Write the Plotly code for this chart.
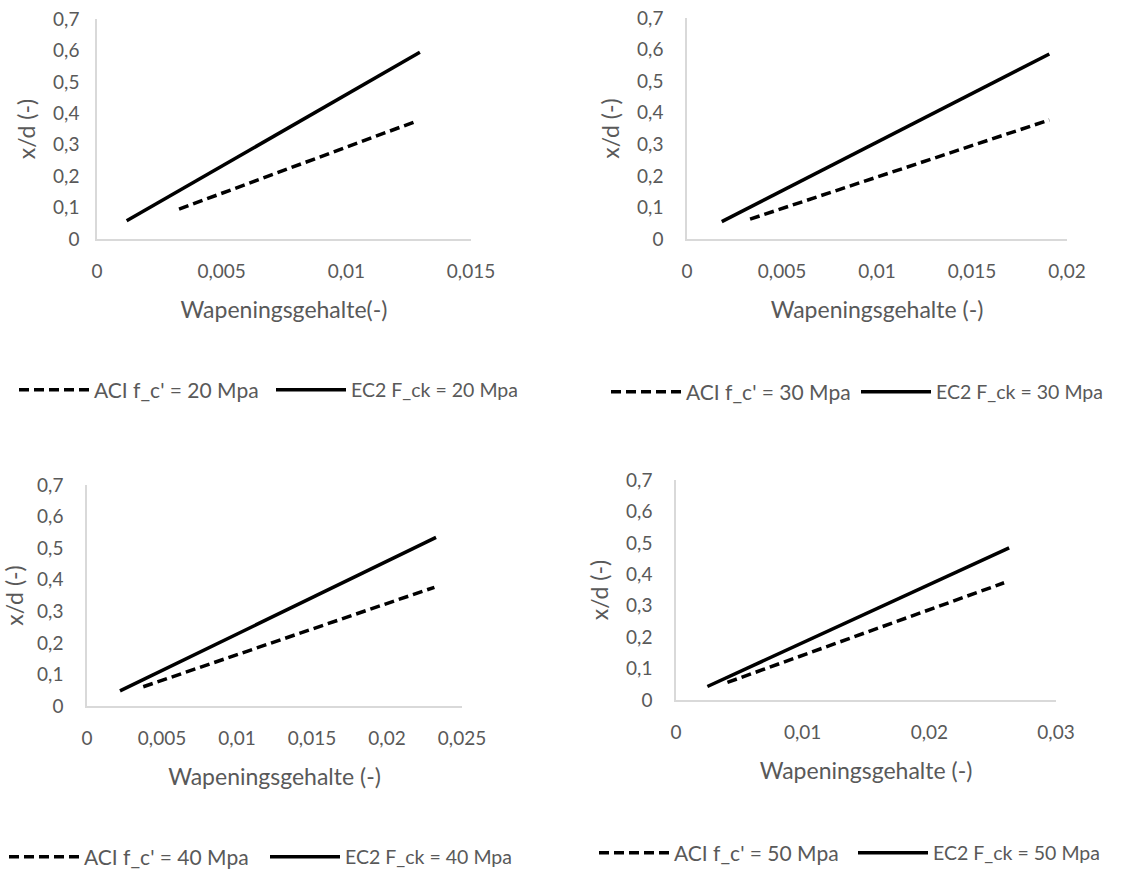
import plotly.graph_objects as go

# ---------------- data ----------------
aci20_x = [0.00329, 0.01275]
aci20_y = [0.095, 0.373]
ec2_20_x = [0.00119, 0.01295]
ec2_20_y = [0.058, 0.594]

aci30_x = [0.00332, 0.01907]
aci30_y = [0.063, 0.377]
ec2_30_x = [0.00183, 0.01907]
ec2_30_y = [0.055, 0.586]

aci40_x = [0.00375, 0.02316]
aci40_y = [0.061, 0.376]
ec2_40_x = [0.00220, 0.02327]
ec2_40_y = [0.048, 0.534]

aci50_x = [0.00406, 0.02590]
aci50_y = [0.056, 0.373]
ec2_50_x = [0.00248, 0.02630]
ec2_50_y = [0.043, 0.484]

y_ticks = [0, 0.1, 0.2, 0.3, 0.4, 0.5, 0.6, 0.7]
y_ticktext = ["0", "0,1", "0,2", "0,3", "0,4", "0,5", "0,6", "0,7"]
x1_ticks = [0, 0.005, 0.01, 0.015]
x1_text = ["0", "0,005", "0,01", "0,015"]
x2_ticks = [0, 0.005, 0.01, 0.015, 0.02]
x2_text = ["0", "0,005", "0,01", "0,015", "0,02"]
x3_ticks = [0, 0.005, 0.01, 0.015, 0.02, 0.025]
x3_text = ["0", "0,005", "0,01", "0,015", "0,02", "0,025"]
x4_ticks = [0, 0.01, 0.02, 0.03]
x4_text = ["0", "0,01", "0,02", "0,03"]

x_titles = ["Wapeningsgehalte(-)", "Wapeningsgehalte (-)", "Wapeningsgehalte (-)", "Wapeningsgehalte (-)"]
y_title = "x/d (-)"

panels = [
    (aci20_x, aci20_y, ec2_20_x, ec2_20_y, "ACI f_c' = 20 Mpa", "EC2 F_ck = 20 Mpa"),
    (aci30_x, aci30_y, ec2_30_x, ec2_30_y, "ACI f_c' = 30 Mpa", "EC2 F_ck = 30 Mpa"),
    (aci40_x, aci40_y, ec2_40_x, ec2_40_y, "ACI f_c' = 40 Mpa", "EC2 F_ck = 40 Mpa"),
    (aci50_x, aci50_y, ec2_50_x, ec2_50_y, "ACI f_c' = 50 Mpa", "EC2 F_ck = 50 Mpa"),
]
x_ranges = [[0, 0.015], [0, 0.02], [0, 0.025], [0, 0.03]]
x_tickvals = [x1_ticks, x2_ticks, x3_ticks, x4_ticks]
x_ticktexts = [x1_text, x2_text, x3_text, x4_text]

# ---------------- layout geometry ----------------
W, H = 1142, 876
def px_x(a, b):
    return [a / W, b / W]
def px_y(top, bottom):
    return [1 - bottom / H, 1 - top / H]

x_domains = [px_x(97, 471), px_x(687, 1067), px_x(87, 462), px_x(676, 1056)]
y_domains = [px_y(19, 239), px_y(18, 239), px_y(485, 706), px_y(480, 700)]
# legend sample start (px) for ACI / EC2 entry, and vertical centre (px)
legend_aci_x = [20, 612, 10, 600]
legend_ec2_x = [277, 862, 271, 859]
legend_y = [390, 392, 857, 853]

FONT = "Lato, 'Open Sans', sans-serif"
GRAY = "#595959"
AXIS = "#D9D9D9"

fig = go.Figure()
for i, (ax, ay, ex, ey, aname, ename) in enumerate(panels):
    sfx = "" if i == 0 else str(i + 1)
    leg_a = "legend" if i == 0 else "legend" + str(2 * i + 1)
    leg_e = "legend" + str(2 * i + 2)
    fig.add_trace(go.Scatter(x=ax, y=ay, mode="lines", name=aname,
                             line=dict(color="black", width=3.5, dash="10px,5px"),
                             xaxis="x" + sfx, yaxis="y" + sfx, legend=leg_a))
    fig.add_trace(go.Scatter(x=ex, y=ey, mode="lines", name=ename,
                             line=dict(color="black", width=3.5),
                             xaxis="x" + sfx, yaxis="y" + sfx, legend=leg_e))

layout = dict(
    width=W, height=H,
    margin=dict(l=0, r=0, t=0, b=0, autoexpand=False),
    paper_bgcolor="white", plot_bgcolor="white",
    separators=",.",
    font=dict(family=FONT, color=GRAY, size=19),
    showlegend=True,
)
for i in range(4):
    sfx = "" if i == 0 else str(i + 1)
    layout["xaxis" + sfx] = dict(
        domain=x_domains[i], anchor="y" + sfx, range=x_ranges[i],
        tickmode="array", tickvals=x_tickvals[i], ticktext=x_ticktexts[i],
        showline=True, linecolor=AXIS, linewidth=1.5, showgrid=False, zeroline=False,
        ticks="", ticklabelstandoff=14, automargin=False,
        tickfont=dict(family=FONT, size=19, color=GRAY),
        title=dict(text=x_titles[i], font=dict(family=FONT, size=23, color=GRAY), standoff=21),
        fixedrange=True,
    )
    layout["yaxis" + sfx] = dict(
        domain=y_domains[i], anchor="x" + sfx, range=[0, 0.7],
        tickmode="array", tickvals=y_ticks, ticktext=y_ticktext,
        showline=True, linecolor=AXIS, linewidth=1.5, showgrid=False, zeroline=False,
        ticks="", ticklabelstandoff=12 if i == 0 else 18, automargin=False,
        tickfont=dict(family=FONT, size=19, color=GRAY),
        title=dict(text=y_title, font=dict(family=FONT, size=23, color=GRAY), standoff=11),
        fixedrange=True,
    )
    leg_a = "legend" if i == 0 else "legend" + str(2 * i + 1)
    leg_e = "legend" + str(2 * i + 2)
    for key, sx, fsize in ((leg_a, legend_aci_x[i], 21), (leg_e, legend_ec2_x[i], 19.5)):
        layout[key] = dict(
            orientation="h", x=(sx - 6) / W, y=1 - legend_y[i] / H,
            xanchor="left", yanchor="middle",
            font=dict(family=FONT, size=fsize, color=GRAY),
            bgcolor="rgba(0,0,0,0)", itemwidth=70,
            itemclick=False, itemdoubleclick=False,
        )

fig.update_layout(**layout)
fig.write_html("out.html")
